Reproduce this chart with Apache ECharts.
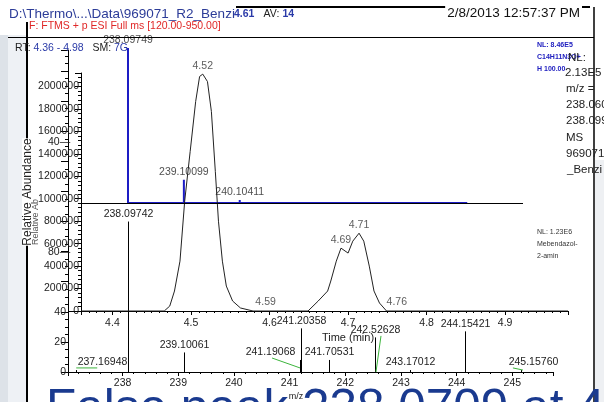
<!DOCTYPE html>
<html>
<head>
<meta charset="utf-8">
<script src="https://cdn.jsdelivr.net/npm/echarts@6/dist/echarts.min.js"></script>
<style>
  html, body { margin: 0; padding: 0; background: #fff; }
  #main { width: 604px; height: 402px; }
</style>
</head>
<body>
<div id="main"></div>
<script>
// chromatogram (Time in min vs intensity)
const chromTime = [4.36, 4.466, 4.473, 4.479, 4.486, 4.492, 4.499, 4.506, 4.511, 4.515, 4.521, 4.526, 4.531, 4.535, 4.54, 4.545, 4.553, 4.563, 4.579,
  4.649, 4.662, 4.674, 4.678, 4.685, 4.691, 4.70, 4.706, 4.714, 4.72, 4.727, 4.733, 4.74, 4.749, 4.98];
const chromValue = [0, 0, 44000, 178000, 444000, 978000, 1422000, 1867000, 2089000, 2110000, 2044000, 1778000, 1244000, 800000, 444000, 222000, 89000, 27000, 0,
  0, 89000, 178000, 267000, 444000, 560000, 516000, 622000, 693000, 622000, 400000, 178000, 71000, 0, 0];
const chromLabels = ['4.52', '4.59', '4.69', '4.71', '4.76'];
const chromLabelTime = [4.515, 4.595, 4.691, 4.714, 4.762];
const chromLabelValue = [2110000, 0, 560000, 693000, 0];

// blue spectrum (overlay, top)
const blueMz = [238.09749, 239.10099, 240.10411];
const blueInt = [100, 15, 2];
const blueEnd = 244.19;

// lower spectrum
const msMz = [237.16948, 238.09742, 239.10061, 241.19068, 241.20358, 241.70531, 242.52628, 243.17012, 244.15421, 245.15760];
const msInt = [1.3, 100, 13, 8, 29, 8, 23, 1.3, 27, 1.3];
// green profile fragments
const greenTrace = [
  [[240.684, 9.3], [241.187, 2.7]],
  [[242.641, 24], [242.551, 0]],
  [[237.168, 2.7], [237.545, 2.7]],
  [[245.01, 2.7], [245.19, 1.3]]
];

const FONT = '"Liberation Sans", Arial, sans-serif';
const labelShift = { '237.16948': 26, '241.19068': -30, '245.15760': 12 };

const chart = echarts.init(document.getElementById('main'));

const blueData = [];
blueMz.forEach((m, i) => { blueData.push([m, 0], [m, blueInt[i]], [m, 0]); });
blueData.push([blueEnd, 0]);

const txt = (x, y, text, size, color, extra) => ({
  type: 'text', x: x, y: y, z: 50,
  style: Object.assign({ text: text, font: size + 'px ' + FONT, fill: color, verticalAlign: 'middle' }, extra || {})
});
const ln = (x1, y1, x2, y2, w, c) => ({
  type: 'line', z: 40, shape: { x1: x1, y1: y1, x2: x2, y2: y2 },
  style: { stroke: c || '#000', lineWidth: w || 1 }
});

const option = {
  animation: false,
  textStyle: { fontFamily: FONT },
  grid: [
    { left: 81, top: 73, width: 487, height: 238 },
    { left: 68, top: 48, width: 485, height: 155 },
    { left: 68, top: 50, width: 485, height: 322 }
  ],
  xAxis: [
    {
      gridIndex: 0, type: 'value', min: 4.36, max: 4.98, splitNumber: 6,
      splitLine: { show: false },
      axisLine: { lineStyle: { color: '#000' } },
      axisTick: { length: 4, lineStyle: { color: '#000' } },
      minorTick: { show: true, splitNumber: 10, length: 2, lineStyle: { color: '#000' } },
      axisLabel: { showMinLabel: false, showMaxLabel: false, color: '#222', fontSize: 10.5, margin: 7 }
    },
    { gridIndex: 1, type: 'value', min: 237.02, max: 245.73, show: false },
    {
      gridIndex: 2, type: 'value', min: 237.02, max: 245.73, splitNumber: 9,
      splitLine: { show: false },
      axisLine: { lineStyle: { color: '#000' } },
      axisTick: { length: 4, lineStyle: { color: '#000' } },
      minorTick: { show: true, splitNumber: 5, length: 2, lineStyle: { color: '#000' } },
      axisLabel: { showMinLabel: false, showMaxLabel: false, color: '#222', fontSize: 10.5, margin: 6 }
    }
  ],
  yAxis: [
    {
      gridIndex: 0, type: 'value', min: 0, max: 2120000, interval: 200000,
      splitLine: { show: false },
      axisLine: { show: true, lineStyle: { color: '#000' } },
      axisTick: { show: true, length: 6, lineStyle: { color: '#000' } },
      minorTick: { show: true, splitNumber: 5, length: 3, lineStyle: { color: '#000' } },
      axisLabel: { showMaxLabel: false, color: '#222', fontSize: 10.5, margin: 2, formatter: v => String(v) }
    },
    { gridIndex: 1, type: 'value', min: 0, max: 100, show: false },
    {
      gridIndex: 2, type: 'value', min: 0, max: 214, interval: 20,
      splitLine: { show: false },
      axisLine: { show: true, lineStyle: { color: '#000' } },
      axisTick: { show: true, length: 7, lineStyle: { color: '#000' } },
      minorTick: { show: true, splitNumber: 4, length: 3, lineStyle: { color: '#000' } },
      axisLabel: { showMaxLabel: false, color: '#222', fontSize: 10.5, margin: 2, formatter: v => (v <= 40 ? String(v) : '') }
    }
  ],
  series: [
    {
      type: 'line', xAxisIndex: 1, yAxisIndex: 1, data: blueData, symbol: 'none', z: 3,
      lineStyle: { color: '#1c1cc4', width: 2 }
    },
    {
      type: 'scatter', xAxisIndex: 1, yAxisIndex: 1, symbolSize: 0, z: 6,
      data: blueMz.map((m, i) => [m, blueInt[i]]),
      label: { show: true, position: 'top', distance: 2, color: '#222', fontSize: 10.5, formatter: p => p.value[0].toFixed(5) }
    },
    {
      type: 'custom', xAxisIndex: 2, yAxisIndex: 2, z: 4,
      data: msMz.map((m, i) => [m, msInt[i]]),
      renderItem: (params, api) => {
        const base = api.coord([api.value(0), 0]);
        const top = api.coord([api.value(0), api.value(1)]);
        const name = msMz[params.dataIndex].toFixed(5);
        const x = Math.round(base[0]) + 0.5;
        return {
          type: 'group', children: [
            { type: 'line', shape: { x1: x, y1: base[1], x2: x, y2: top[1] }, style: { stroke: '#000', lineWidth: 1 } },
            { type: 'text', x: x + (labelShift[name] || 0), y: top[1] - 2,
              style: { text: name, align: 'center', verticalAlign: 'bottom', font: '10.5px ' + FONT, fill: '#222' } }
          ]
        };
      }
    },
    ...greenTrace.map(tr => ({
      type: 'line', xAxisIndex: 2, yAxisIndex: 2, data: tr, symbol: 'none', z: 5,
      lineStyle: { color: '#3cb43c', width: 1 }
    })),
    {
      type: 'line', xAxisIndex: 0, yAxisIndex: 0, z: 5, symbol: 'none',
      data: chromTime.map((t, i) => [t, chromValue[i]]),
      lineStyle: { color: '#222', width: 1 }
    },
    {
      type: 'scatter', xAxisIndex: 0, yAxisIndex: 0, symbolSize: 0, z: 6,
      data: chromLabelTime.map((t, i) => ({ value: [t, chromLabelValue[i]], name: chromLabels[i] })),
      label: { show: true, position: 'top', distance: 3, color: '#333', fontSize: 10.5, formatter: p => p.name }
    }
  ],
  graphic: [
    { type: 'rect', z: 1, shape: { x: 0, y: 35, width: 8, height: 367 }, style: { fill: '#dde2e8' } },
    { type: 'rect', z: 1, shape: { x: 8, y: 35, width: 18, height: 367 }, style: { fill: '#eef1f5' } },
    { type: 'rect', z: 1, shape: { x: 595, y: 160, width: 9, height: 242 }, style: { fill: '#eef0f3' } },
    ln(27, 22, 27, 402, 2),
    ln(8, 37.5, 594, 37.5, 1),
    ln(236, 7, 590, 7, 2),
    ln(594, 7, 594, 402, 1.5),
    ln(82, 203.5, 523, 203.5, 1),
    ln(68, 311.5, 81, 311.5, 1),
    txt(9, 14, 'D:\\Thermo\\...\\Data\\969071_R2_Benzi', 13.5, '#2c3c98'),
    txt(234, 14, '{b|4.61}   {k|AV:} {b|14}', 11, '#222', {
      rich: { b: { fill: '#2a3aa8', font: 'bold 10.5px ' + FONT }, k: { fill: '#222', font: '10.5px ' + FONT } }
    }),
    txt(582, 13, '2/8/2013 12:57:37 PM', 13.5, '#111', { align: 'right', backgroundColor: '#fff', padding: [1, 2] }),
    txt(29, 26, 'F: FTMS + p ESI Full ms [120.00-950.00]', 10.5, '#e02828'),
    txt(15, 48, '{k|RT:} {v|4.36 - 4.98}   {k|SM:} {v|7G}', 10.5, '#222', {
      rich: { k: { fill: '#222', font: '10.5px ' + FONT }, v: { fill: '#2a3aa8', font: '10.5px ' + FONT } }
    }),
    txt(537, 45, 'NL: 8.46E5', 7, '#2020c0', { font: 'bold 7px ' + FONT }),
    txt(537, 57, 'C14H11N3O+', 7, '#2020c0', { font: 'bold 7px ' + FONT }),
    txt(537, 69, 'H 100.00', 7, '#2020c0', { font: 'bold 7px ' + FONT }),
    txt(568, 58, 'NL:', 11.5, '#222'),
    txt(565, 73, '2.13E5', 11.5, '#222'),
    txt(566, 89, 'm/z =', 11.5, '#222'),
    txt(566, 105, '238.060', 11.5, '#222'),
    txt(566, 121, '238.099', 11.5, '#222'),
    txt(566, 138, 'MS', 11.5, '#222'),
    txt(566, 154, '969071_', 11.5, '#222'),
    txt(567, 170, '_Benzi', 11.5, '#222'),
    txt(537, 232, 'NL: 1.23E6', 7, '#333'),
    txt(537, 244, 'Mebendazol-', 7, '#333'),
    txt(537, 256, '2-amin', 7, '#333'),
    txt(48, 142, '40—', 10.5, '#222'),
    txt(48, 252, '80—', 10.5, '#222'),
    Object.assign(txt(28, 192, 'Relative Abundance', 12, '#222', { align: 'center', backgroundColor: '#fff' }), { rotation: Math.PI / 2 }),
    Object.assign(txt(36, 222, 'Relative Ab', 9, '#555', { align: 'center' }), { rotation: Math.PI / 2 }),
    txt(348, 338, 'Time (min)', 11, '#222', { align: 'center' }),
    txt(46, 410, 'False peak 238.0709 at 4.52', 49.5, '#1a3a8f', { z: 60 }),
    Object.assign(txt(296, 397, 'm/z', 9, '#222', { align: 'center' }), { z: 70 })
  ]
};
chart.setOption(option);
</script>
</body>
</html>
